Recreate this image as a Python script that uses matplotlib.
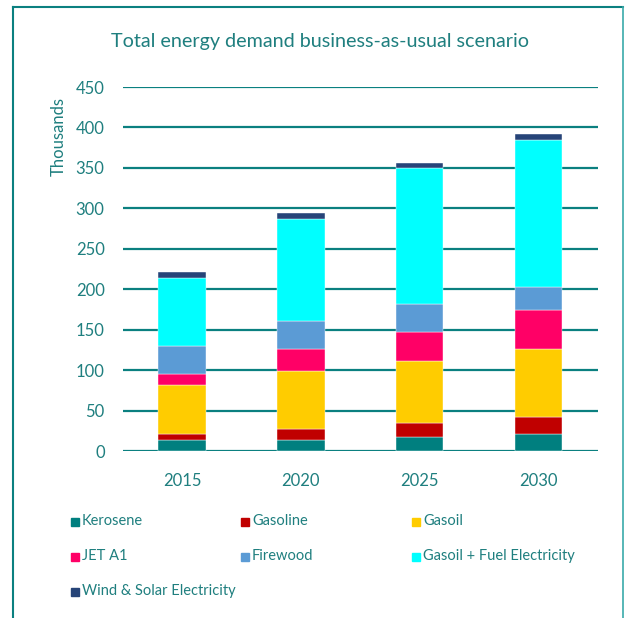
import matplotlib
matplotlib.use("Agg")
import matplotlib.pyplot as plt
from matplotlib.patches import Rectangle
from matplotlib.lines import Line2D
import numpy as np

plt.rcParams['font.family'] = ['Lato', 'DejaVu Sans']

years = ["2015", "2020", "2025", "2030"]
series_names = ["Kerosene", "Gasoline", "Gasoil", "JET A1", "Firewood",
                "Gasoil + Fuel Electricity", "Wind & Solar Electricity"]
kerosene = [14.0, 14.0, 17.3, 21.0]
gasoline = [6.6, 13.2, 17.7, 21.3]
gasoil = [60.5, 71.2, 76.5, 83.6]
jet_a1 = [13.6, 27.5, 35.4, 49.0]
firewood = [35.3, 35.0, 35.0, 28.0]
gasoil_fuel_elec = [84.4, 126.4, 167.5, 182.0]
wind_solar = [6.6, 6.9, 7.0, 7.4]
colors = ["#007F7F", "#C00000", "#FFCC00", "#FF0066", "#5B9BD5", "#00FFFF", "#264478"]
yticks = [0, 50, 100, 150, 200, 250, 300, 350, 400, 450]

txt = "#1F7F7F"
grid = "#0B8080"

fig = plt.figure(figsize=(6.27, 6.18), dpi=100)
ax = fig.add_axes([122.7/627, 1-451/618, (597.7-122.7)/627, (451-87)/618])

data = [kerosene, gasoline, gasoil, jet_a1, firewood, gasoil_fuel_elec, wind_solar]
x = np.arange(len(years))
bottom = np.zeros(len(years))
for vals, c, name in zip(data, colors, series_names):
    ax.bar(x, vals, 0.4, bottom=bottom, color=c, label=name, zorder=3,
           edgecolor="white", linewidth=0.3)
    bottom += np.array(vals)

ax.set_xlim(-0.5, 3.5)
ax.set_ylim(0, 450)
ax.set_yticks(yticks)
ax.set_xticks(x)
ax.set_xticklabels(years)
for yv in yticks:
    ax.axhline(yv, color=grid, lw=1.6, zorder=1)
for s in ax.spines.values():
    s.set_visible(False)
ax.tick_params(axis='both', length=0, labelsize=12, colors=txt)
ax.tick_params(axis='y', pad=13)
ax.tick_params(axis='x', pad=16)
ax.set_ylabel("Thousands", color=txt, fontsize=12)
ax.yaxis.set_label_coords(-0.117, 0.865)

fig.text(320/627, 1-42/618, "Total energy demand business-as-usual scenario",
         ha="center", va="center", fontsize=14.2, color=txt)

# legend, row-major 3 columns
col_x = [71, 241, 412]
row_y = [521, 556, 591]
for i, (name, c) in enumerate(zip(series_names, colors)):
    r, cc = divmod(i, 3)
    px, py = col_x[cc], row_y[r]
    fig.patches.append(Rectangle((px/627, 1-(py+4.5)/618), 8/627, 8/618,
                                 transform=fig.transFigure, color=c, figure=fig))
    fig.text((px+11)/627, 1-py/618, name, ha="left", va="center",
             fontsize=10.5, color=txt)

# frame
fig.add_artist(Line2D([13/627, 13/627], [0, 1-7/618], transform=fig.transFigure, color=grid, lw=1.5))
fig.add_artist(Line2D([13/627, 623/627], [1-7/618, 1-7/618], transform=fig.transFigure, color=grid, lw=1.5))
fig.add_artist(Line2D([623/627, 623/627], [0, 1-7/618], transform=fig.transFigure, color="#3aaaaa", lw=1.2))

fig.savefig("out.png", dpi=100)
